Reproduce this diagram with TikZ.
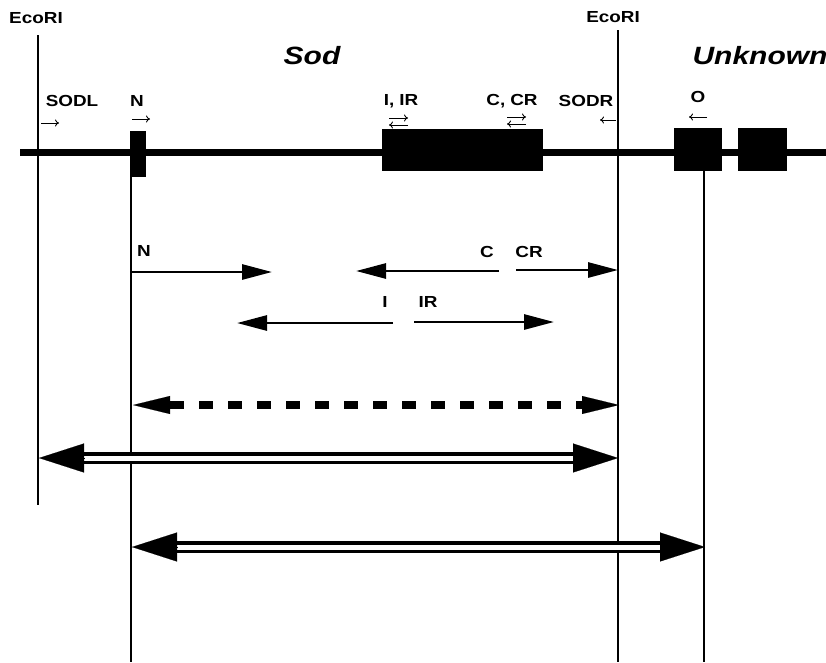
\documentclass[tikz,border=0pt]{standalone}
\usepackage{fontspec}
\usetikzlibrary{arrows.meta,calc}
\newfontfamily\labfont{Liberation Sans}[FakeStretch=1.18]
\newfontfamily\titfont{Liberation Sans}[FakeStretch=1.2]
\begin{document}
\begin{tikzpicture}[x=1pt,y=-1pt,
  lab/.style={font=\labfont\bfseries\fontsize{16}{16}\selectfont, inner sep=0pt},
  tit/.style={font=\titfont\bfseries\itshape\fontsize{25}{25}\selectfont, inner sep=0pt},
  sarr/.style={line width=0.9pt, -{To[length=4pt,width=7pt]}},
  vline/.style={line width=1.4pt},
  dna/.style={line width=7pt},
  exon/.style={fill=black, draw=none, inner sep=0pt},
  primer/.style={line width=2.8pt, -{Triangle[length=30pt,width=15pt]}},
  dashshaft/.style={line width=8pt, dash pattern=on 14pt off 15pt, shorten <=37pt, shorten >=37pt},
  dashhead/.style={line width=0.1pt, -{Triangle[length=37pt,width=18pt]}},
  dblshaft/.style={line width=3.2pt, double=white, double distance=5pt, shorten <=40pt, shorten >=40pt},
  dblhead/.style={line width=0.1pt, -{Triangle[length=45pt,width=29pt]}}
]
\useasboundingbox (0,0) rectangle (826,662);

% DNA backbone
\coordinate (dnaL) at (20,152);
\coordinate (dnaR) at (826,152);
\draw[dna] (dnaL) -- (dnaR);

% exons
\node[exon, minimum width=16pt, minimum height=46pt] (nbox) at (138,154) {};
\node[exon, minimum width=161pt, minimum height=42pt] (sodbox) at (462.5,150) {};
\node[exon, minimum width=48pt, minimum height=43pt] (obox) at (698,149.5) {};
\node[exon, minimum width=49pt, minimum height=43pt] (ubox) at (762.5,149.5) {};

% vertical lines
\coordinate (e1top) at (38,35);
\coordinate (e1bot) at (38,505);
\coordinate (ntop) at (131,177);
\coordinate (nbot) at (131,662);
\coordinate (e2top) at (618,30);
\coordinate (e2bot) at (618,662);
\coordinate (otop) at (704,171);
\coordinate (obot) at (704,662);
\draw[vline] (e1top) -- (e1bot);
\draw[vline] (ntop) -- (nbot);
\draw[vline] (e2top) -- (e2bot);
\draw[vline] (otop) -- (obot);

% top labels
\node[lab] (eco1) at (36,18) {EcoRI};
\node[lab] (eco2) at (613,17) {EcoRI};
\node[tit] (sod) at (312,56) {Sod};
\node[tit] (unk) at (760,56) {Unknown};
\node[lab] (sodl) at (72,101) {SODL};
\node[lab] (nlab) at (137,101) {N};
\node[lab] (ilab) at (401,101) {I,\hspace{5pt}IR};
\node[lab] (clab) at (512,101) {C,\hspace{5pt}CR};
\node[lab] (sodr) at (586,101) {SODR};
\node[lab] (olab) at (698,97) {O};

% small direction arrows
\coordinate (sl1) at (41,123);  \coordinate (sl2) at (59,123);
\coordinate (sn1) at (132,119); \coordinate (sn2) at (150,119);
\coordinate (si1) at (389,118); \coordinate (si2) at (408,118);
\coordinate (si3) at (408,125); \coordinate (si4) at (389,125);
\coordinate (sc1) at (507,117); \coordinate (sc2) at (526,117);
\coordinate (sc3) at (526,124); \coordinate (sc4) at (507,124);
\coordinate (sr1) at (616,120); \coordinate (sr2) at (600,120);
\coordinate (so1) at (707,117); \coordinate (so2) at (689,117);
\draw[sarr] (sl1) -- (sl2);
\draw[sarr] (sn1) -- (sn2);
\draw[sarr] (si1) -- (si2);
\draw[sarr] (si3) -- (si4);
\draw[sarr] (sc1) -- (sc2);
\draw[sarr] (sc3) -- (sc4);
\draw[sarr] (sr1) -- (sr2);
\draw[sarr] (so1) -- (so2);

% primer arrows
\coordinate (n1) at (131,272);
\coordinate (n2) at (272,272);
\coordinate (c1) at (499,271);
\coordinate (c2) at (356,271);
\coordinate (cr1) at (516,270);
\coordinate (cr2) at (618,270);
\coordinate (i1) at (393,323);
\coordinate (i2) at (237,323);
\coordinate (ir1) at (414,322);
\coordinate (ir2) at (554,322);
\draw[primer] (n1) -- (n2);
\draw[primer] (c1) -- (c2);
\draw[primer] (cr1) -- (cr2);
\draw[primer] (i1) -- (i2);
\draw[primer] (ir1) -- (ir2);
\node[lab] (nl2) at (144,251) {N};
\node[lab] (cl2) at (487,252) {C};
\node[lab] (crl2) at (529,252) {CR};
\node[lab] (il2) at (385,302) {I};
\node[lab] (irl2) at (428,302) {IR};

% dashed product
\coordinate (d1) at (133,405);
\coordinate (d2) at (619,405);
\draw[dashshaft] (d1) -- (d2);
\draw[dashhead] ($(d1)+(37,0)$) -- (d1);
\draw[dashhead] ($(d2)+(-37,0)$) -- (d2);

% double-line products
\coordinate (p1) at (39,458);
\coordinate (p2) at (618,458);
\draw[dblshaft] (p1) -- (p2);
\draw[dblhead] ($(p1)+(45,0)$) -- (p1);
\draw[dblhead] ($(p2)+(-45,0)$) -- (p2);

\coordinate (q1) at (132,547);
\coordinate (q2) at (705,547);
\draw[dblshaft] (q1) -- (q2);
\draw[dblhead] ($(q1)+(45,0)$) -- (q1);
\draw[dblhead] ($(q2)+(-45,0)$) -- (q2);
\end{tikzpicture}
\end{document}
